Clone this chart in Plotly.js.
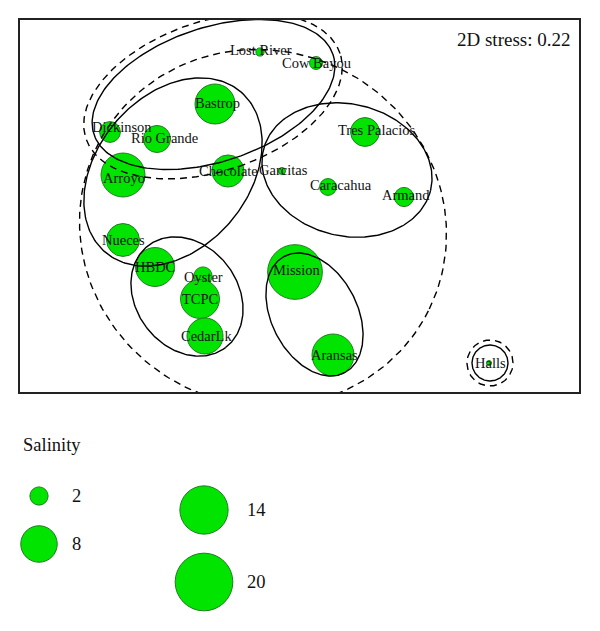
<!DOCTYPE html>
<html><head><meta charset="utf-8">
<script src="https://cdn.plot.ly/plotly-3.0.1.min.js"></script>
<style>html,body{margin:0;padding:0;background:#fff;}#chart{width:600px;height:631px;}</style>
</head><body><div id="chart"></div>
<script>
// ---- data (MDS coordinates and salinity) ----
const sites = ['Lost River','Cow Bayou','Bastrop','Dickinson','Rio Grande','Arroyo','Chocolate','Garcitas',
  'Tres Palacios','Caracahua','Armand','Nueces','HBDC','Oyster','TCPC','CedarLk','Mission','Aransas','Halls'];
const mdsX = [-0.40, 0.16, -0.85, -1.90, -1.43, -1.77, -0.72, -0.18, 0.65, 0.28, 1.04, -1.77, -1.45, -0.97, -1.00, -0.95, -0.05, 0.33, 1.89];
const mdsY = [1.54, 1.43, 1.02, 0.74, 0.67, 0.31, 0.35, 0.35, 0.74, 0.19, 0.09, -0.34, -0.61, -0.70, -0.93, -1.30, -0.66, -1.49, -1.57];
const salinity = [0.4, 1.0, 9.6, 2.6, 4.4, 11.6, 6.2, 0.3, 5.0, 1.7, 2.2, 6.5, 9.1, 2.0, 9.1, 7.8, 18.0, 10.6, 0.15];
const stressText = '2D stress: 0.22';
const keyTitle = 'Salinity';
const keyValues = [2, 8, 14, 20];
const keyLabels = ['2', '8', '14', '20'];

// cluster overlay ellipses (MDS units): centre, semi-axes, rotation (deg), dashed?
const ellCx = [-0.865, -0.87, -1.27, 0.47, -1.13, 0.145, -0.37, 1.90, 1.90];
const ellCy = [1.115, 1.10, 0.34, 0.36, -0.905, -1.085, -0.22, -1.57, -1.57];
const ellA  = [1.26, 1.34, 1.05, 0.86, 0.64, 0.655, 1.85, 0.18, 0.23];
const ellB  = [0.67, 0.75, 0.76, 0.66, 0.51, 0.43, 1.77, 0.18, 0.23];
const ellAng = [18.5, 18.5, 50, -13.5, -53, -62.8, -26, 0, 0];
const ellDashed = [false, true, false, false, false, false, true, false, true];

// ---- styling / layout constants ----
const FONT = 'Liberation Serif, Times New Roman, serif';
const labelNudge = { // px offsets of labels from bubble centres
  'Lost River':[1,-2], 'Bastrop':[2,-1], 'Dickinson':[12,-5], 'Rio Grande':[7,-1], 'Arroyo':[1,3],
  'Garcitas':[1,-1], 'Tres Palacios':[12,-2], 'Caracahua':[13,-2], 'Armand':[2,-2], 'Oyster':[0,1],
  'CedarLk':[1,0], 'Mission':[1,-2], 'Aransas':[1,0], 'Halls':[1,0]
};
const keySlots = [[39,496],[39,544],[204,510],[204,582]];
const keyTextX = [70, 70, 245, 245];
const sizeRef = 2 / (12.9 * 12.9);
const bubbleMarker = {sizemode:'area', sizeref:sizeRef, opacity:1, color:'#00e400', line:{color:'#1f7f1f', width:1}};

const traces = [];
traces.push({
  type:'scatter', mode:'markers', x:mdsX, y:mdsY, hoverinfo:'skip',
  marker:Object.assign({size:salinity}, bubbleMarker), xaxis:'x', yaxis:'y'
});
for (let k = 0; k < ellCx.length; k++) {
  const xs = [], ys = [];
  const phi = ellAng[k] * Math.PI / 180;
  for (let i = 0; i <= 240; i++) {
    const t = 2 * Math.PI * i / 240;
    const u = ellA[k] * Math.cos(t), v = ellB[k] * Math.sin(t);
    xs.push(ellCx[k] + u * Math.cos(phi) - v * Math.sin(phi));
    ys.push(ellCy[k] + u * Math.sin(phi) + v * Math.cos(phi));
  }
  traces.push({type:'scatter', mode:'lines', x:xs, y:ys, hoverinfo:'skip', xaxis:'x', yaxis:'y',
    line:{color:'#000', width:1.4, dash: ellDashed[k] ? '7px,5px' : 'solid', shape:'linear'}});
}
// key bubbles
traces.push({
  type:'scatter', mode:'markers', x:keySlots.map(s=>s[0]), y:keySlots.map(s=>s[1]), hoverinfo:'skip',
  marker:Object.assign({size:keyValues}, bubbleMarker), xaxis:'x2', yaxis:'y2', cliponaxis:false
});

const annotations = sites.map((s, i) => {
  const n = labelNudge[s] || [0, 0];
  return {x:mdsX[i], y:mdsY[i], xref:'x', yref:'y', text:s, showarrow:false,
    xanchor:'center', yanchor:'middle', xshift:n[0], yshift:-n[1],
    font:{family:FONT, size:14.5, color:'#111'}};
});
annotations.push({x:572, y:39, xref:'x2', yref:'y2', text:stressText, showarrow:false,
  xanchor:'right', yanchor:'middle', font:{family:FONT, size:19, color:'#111'}});
annotations.push({x:21, y:445, xref:'x2', yref:'y2', text:keyTitle, showarrow:false,
  xanchor:'left', yanchor:'middle', font:{family:FONT, size:18.5, color:'#111'}});
keyLabels.forEach((t, i) => annotations.push({x:keyTextX[i], y:keySlots[i][1], xref:'x2', yref:'y2', text:t,
  showarrow:false, xanchor:'left', yanchor:'middle', font:{family:FONT, size:18.5, color:'#111'}}));

const hidden = {visible:false, fixedrange:true};
const layout = {
  width:600, height:631, margin:{l:0, r:0, t:0, b:0}, showlegend:false,
  paper_bgcolor:'#fff', plot_bgcolor:'rgba(0,0,0,0)',
  xaxis:{domain:[20/600, 579/600], range:[-2.80, 2.79], showgrid:false, zeroline:false, showticklabels:false,
    ticks:'', showline:true, mirror:true, linecolor:'#222', linewidth:1.6, anchor:'y'},
  yaxis:{domain:[1-392/631, 1-20/631], range:[-1.86, 1.86], showgrid:false, zeroline:false, showticklabels:false,
    ticks:'', showline:true, mirror:true, linecolor:'#222', linewidth:1.6, anchor:'x'},
  xaxis2:Object.assign({domain:[0,1], range:[0,600], anchor:'y2'}, hidden),
  yaxis2:Object.assign({domain:[0,1], range:[631,0], anchor:'x2'}, hidden),
  annotations:annotations
};
Plotly.newPlot('chart', traces, layout, {staticPlot:true, displayModeBar:false});
</script></body></html>
